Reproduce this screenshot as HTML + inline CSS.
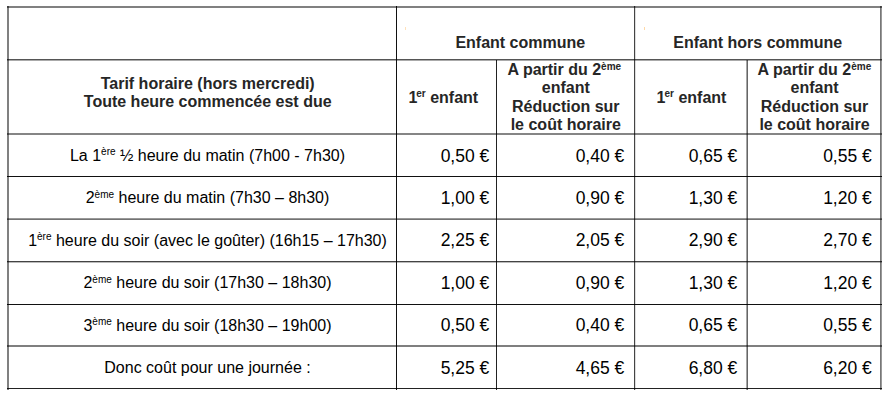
<!DOCTYPE html>
<html><head><meta charset="utf-8"><style>
html,body{margin:0;padding:0;background:#fff;width:892px;height:407px;overflow:hidden;position:relative}
body{font-family:"Liberation Sans",sans-serif;color:#000}
.l{position:absolute}
.t{position:absolute;white-space:nowrap}
.s{position:relative;line-height:0}
</style></head><body>
<div class="l" style="left:7px;top:6px;width:875px;height:2px;background:rgba(0,0,0,0.498)"></div><div class="l" style="left:7px;top:59px;width:875px;height:1px;background:rgba(0,0,0,0.667)"></div><div class="l" style="left:7px;top:60px;width:875px;height:1px;background:rgba(0,0,0,0.333)"></div><div class="l" style="left:7px;top:133px;width:875px;height:1px;background:rgba(0,0,0,0.48)"></div><div class="l" style="left:7px;top:134px;width:875px;height:1px;background:rgba(0,0,0,0.48)"></div><div class="l" style="left:7px;top:176px;width:875px;height:1px;background:rgba(0,0,0,0.933)"></div><div class="l" style="left:7px;top:218px;width:875px;height:1px;background:rgba(0,0,0,0.4)"></div><div class="l" style="left:7px;top:219px;width:875px;height:1px;background:rgba(0,0,0,0.55)"></div><div class="l" style="left:7px;top:261px;width:875px;height:1px;background:rgba(0,0,0,0.733)"></div><div class="l" style="left:7px;top:262px;width:875px;height:1px;background:rgba(0,0,0,0.267)"></div><div class="l" style="left:7px;top:304px;width:875px;height:1px;background:rgba(0,0,0,0.933)"></div><div class="l" style="left:7px;top:345px;width:875px;height:1px;background:rgba(0,0,0,0.5)"></div><div class="l" style="left:7px;top:346px;width:875px;height:1px;background:rgba(0,0,0,0.5)"></div><div class="l" style="left:7px;top:388px;width:875px;height:1px;background:rgba(0,0,0,0.867)"></div><div class="l" style="left:7px;top:6px;width:2px;height:384px;background:rgba(0,0,0,0.498)"></div><div class="l" style="left:396px;top:6px;width:1px;height:384px;background:rgba(0,0,0,0.933)"></div><div class="l" style="left:496px;top:60px;width:1px;height:330px;background:rgba(0,0,0,0.867)"></div><div class="l" style="left:634px;top:6px;width:1px;height:384px;background:rgba(0,0,0,0.733)"></div><div class="l" style="left:635px;top:6px;width:1px;height:384px;background:rgba(0,0,0,0.133)"></div><div class="l" style="left:746px;top:60px;width:1px;height:330px;background:rgba(0,0,0,0.35)"></div><div class="l" style="left:747px;top:60px;width:1px;height:330px;background:rgba(0,0,0,0.6)"></div><div class="l" style="left:880px;top:6px;width:1px;height:384px;background:rgba(0,0,0,0.533)"></div><div class="l" style="left:881px;top:6px;width:1px;height:384px;background:rgba(0,0,0,0.4)"></div><div class="l" style="left:405px;top:27px;width:1px;height:3px;background:rgba(255,170,60,0.35)"></div><div class="l" style="left:644px;top:27px;width:1px;height:3px;background:rgba(255,170,60,0.45)"></div>
<div class="t" style="left:320.30px;top:35.26px;width:400px;text-align:center;font-size:16px;line-height:16px;font-weight:bold;color:#262626;">Enfant commune</div>
<div class="t" style="left:557.80px;top:35.26px;width:400px;text-align:center;font-size:16px;line-height:16px;font-weight:bold;color:#262626;">Enfant hors commune</div>
<div class="t" style="left:7.70px;top:76.06px;width:400px;text-align:center;font-size:16px;line-height:16px;font-weight:bold;color:#262626;">Tarif horaire (hors mercredi)</div>
<div class="t" style="left:7.70px;top:94.46px;width:400px;text-align:center;font-size:16px;line-height:16px;font-weight:bold;color:#262626;">Toute heure commencée est due</div>
<div class="t" style="left:243.30px;top:90.46px;width:400px;text-align:center;font-size:16px;line-height:16px;font-weight:bold;color:#262626;">1<span style="margin-left:-1px"></span><span class="s" style="font-size:10px;top:-6.5px">er</span> enfant</div>
<div class="t" style="left:491.50px;top:90.46px;width:400px;text-align:center;font-size:16px;line-height:16px;font-weight:bold;color:#262626;">1<span style="margin-left:-1px"></span><span class="s" style="font-size:10px;top:-6.5px">er</span> enfant</div>
<div class="t" style="left:364.30px;top:62.26px;width:400px;text-align:center;font-size:16px;line-height:16px;font-weight:bold;color:#262626;">A partir du 2<span class="s" style="font-size:10px;top:-4.8px">ème</span></div>
<div class="t" style="left:365.80px;top:80.46px;width:400px;text-align:center;font-size:16px;line-height:16px;font-weight:bold;color:#262626;">enfant</div>
<div class="t" style="left:365.80px;top:98.56px;width:400px;text-align:center;font-size:16px;line-height:16px;font-weight:bold;color:#262626;">Réduction sur</div>
<div class="t" style="left:365.80px;top:116.76px;width:400px;text-align:center;font-size:16px;line-height:16px;font-weight:bold;color:#262626;">le coût horaire</div>
<div class="t" style="left:614.40px;top:62.26px;width:400px;text-align:center;font-size:16px;line-height:16px;font-weight:bold;color:#262626;">A partir du 2<span class="s" style="font-size:10px;top:-4.8px">ème</span></div>
<div class="t" style="left:614.50px;top:80.46px;width:400px;text-align:center;font-size:16px;line-height:16px;font-weight:bold;color:#262626;">enfant</div>
<div class="t" style="left:614.50px;top:98.56px;width:400px;text-align:center;font-size:16px;line-height:16px;font-weight:bold;color:#262626;">Réduction sur</div>
<div class="t" style="left:614.50px;top:116.76px;width:400px;text-align:center;font-size:16px;line-height:16px;font-weight:bold;color:#262626;">le coût horaire</div>
<div class="t" style="left:7.50px;top:147.96px;width:400px;text-align:center;font-size:16px;line-height:16px;">La 1<span class="s" style="font-size:10px;top:-5.6px">ère</span> ½ heure du matin (7h00 - 7h30)</div>
<div class="t" style="left:89.30px;top:148.49px;width:400px;text-align:right;font-size:17.5px;line-height:17.5px;">0,50 €</div>
<div class="t" style="left:224.30px;top:148.49px;width:400px;text-align:right;font-size:17.5px;line-height:17.5px;">0,40 €</div>
<div class="t" style="left:337.30px;top:148.49px;width:400px;text-align:right;font-size:17.5px;line-height:17.5px;">0,65 €</div>
<div class="t" style="left:471.80px;top:148.49px;width:400px;text-align:right;font-size:17.5px;line-height:17.5px;">0,55 €</div>
<div class="t" style="left:7.50px;top:190.41px;width:400px;text-align:center;font-size:16px;line-height:16px;">2<span class="s" style="font-size:10px;top:-5.6px">ème</span> heure du matin (7h30 – 8h30)</div>
<div class="t" style="left:89.30px;top:189.94px;width:400px;text-align:right;font-size:17.5px;line-height:17.5px;">1,00 €</div>
<div class="t" style="left:224.30px;top:189.94px;width:400px;text-align:right;font-size:17.5px;line-height:17.5px;">0,90 €</div>
<div class="t" style="left:337.30px;top:189.94px;width:400px;text-align:right;font-size:17.5px;line-height:17.5px;">1,30 €</div>
<div class="t" style="left:471.80px;top:189.94px;width:400px;text-align:right;font-size:17.5px;line-height:17.5px;">1,20 €</div>
<div class="t" style="left:7.50px;top:232.86px;width:400px;text-align:center;font-size:16px;line-height:16px;">1<span class="s" style="font-size:10px;top:-5.6px">ère</span> heure du soir (avec le goûter) (16h15 – 17h30)</div>
<div class="t" style="left:89.30px;top:232.39px;width:400px;text-align:right;font-size:17.5px;line-height:17.5px;">2,25 €</div>
<div class="t" style="left:224.30px;top:232.39px;width:400px;text-align:right;font-size:17.5px;line-height:17.5px;">2,05 €</div>
<div class="t" style="left:337.30px;top:232.39px;width:400px;text-align:right;font-size:17.5px;line-height:17.5px;">2,90 €</div>
<div class="t" style="left:471.80px;top:232.39px;width:400px;text-align:right;font-size:17.5px;line-height:17.5px;">2,70 €</div>
<div class="t" style="left:7.50px;top:275.31px;width:400px;text-align:center;font-size:16px;line-height:16px;">2<span class="s" style="font-size:10px;top:-5.6px">ème</span> heure du soir (17h30 – 18h30)</div>
<div class="t" style="left:89.30px;top:274.84px;width:400px;text-align:right;font-size:17.5px;line-height:17.5px;">1,00 €</div>
<div class="t" style="left:224.30px;top:274.84px;width:400px;text-align:right;font-size:17.5px;line-height:17.5px;">0,90 €</div>
<div class="t" style="left:337.30px;top:274.84px;width:400px;text-align:right;font-size:17.5px;line-height:17.5px;">1,30 €</div>
<div class="t" style="left:471.80px;top:274.84px;width:400px;text-align:right;font-size:17.5px;line-height:17.5px;">1,20 €</div>
<div class="t" style="left:7.50px;top:317.76px;width:400px;text-align:center;font-size:16px;line-height:16px;">3<span class="s" style="font-size:10px;top:-5.6px">ème</span> heure du soir (18h30 – 19h00)</div>
<div class="t" style="left:89.30px;top:317.29px;width:400px;text-align:right;font-size:17.5px;line-height:17.5px;">0,50 €</div>
<div class="t" style="left:224.30px;top:317.29px;width:400px;text-align:right;font-size:17.5px;line-height:17.5px;">0,40 €</div>
<div class="t" style="left:337.30px;top:317.29px;width:400px;text-align:right;font-size:17.5px;line-height:17.5px;">0,65 €</div>
<div class="t" style="left:471.80px;top:317.29px;width:400px;text-align:right;font-size:17.5px;line-height:17.5px;">0,55 €</div>
<div class="t" style="left:7.50px;top:360.21px;width:400px;text-align:center;font-size:16px;line-height:16px;">Donc coût pour une journée :</div>
<div class="t" style="left:89.30px;top:359.74px;width:400px;text-align:right;font-size:17.5px;line-height:17.5px;">5,25 €</div>
<div class="t" style="left:224.30px;top:359.74px;width:400px;text-align:right;font-size:17.5px;line-height:17.5px;">4,65 €</div>
<div class="t" style="left:337.30px;top:359.74px;width:400px;text-align:right;font-size:17.5px;line-height:17.5px;">6,80 €</div>
<div class="t" style="left:471.80px;top:359.74px;width:400px;text-align:right;font-size:17.5px;line-height:17.5px;">6,20 €</div>

</body></html>
